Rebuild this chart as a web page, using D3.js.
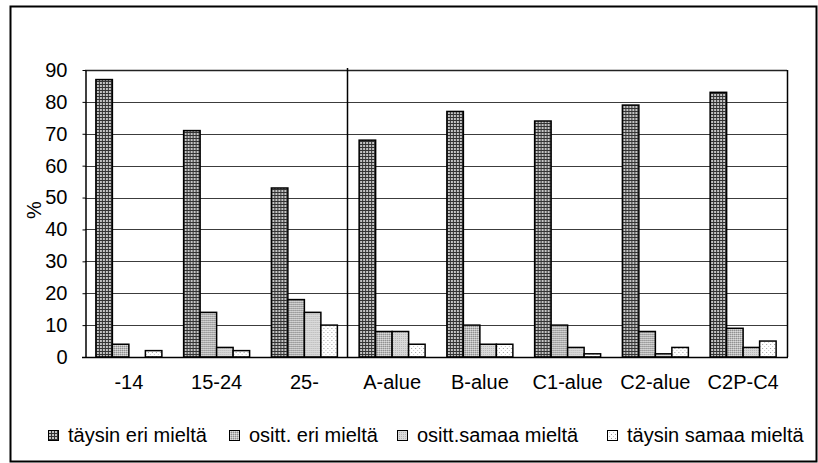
<!DOCTYPE html>
<html>
<head>
<meta charset="utf-8">
<script src="https://cdn.jsdelivr.net/npm/d3@7"></script>
<style>
  html, body { margin: 0; padding: 0; background: #fff; }
  svg text { font-family: "Liberation Sans", Arial, sans-serif; fill: #000; }
</style>
</head>
<body>
<svg id="chart" width="818" height="463"></svg>
<script>
// Kyselyn vastausjakaumat ikäryhmittäin ja alueittain (%)
const categories = ["-14", "15-24", "25-", "A-alue", "B-alue", "C1-alue", "C2-alue", "C2P-C4"];
const seriesNames = ["täysin eri mieltä", "ositt. eri mieltä", "ositt.samaa mieltä", "täysin samaa mieltä"];
const taysinEri  = [87, 71, 53, 68, 77, 74, 79, 83];
const osittEri   = [4, 14, 18, 8, 10, 10, 8, 9];
const osittSamaa = [0, 3, 14, 8, 4, 3, 1, 3];
const taysinSamaa = [2, 2, 10, 4, 4, 1, 3, 5];
const yTicks = [0, 10, 20, 30, 40, 50, 60, 70, 80, 90];

const seriesValues = [taysinEri, osittEri, osittSamaa, taysinSamaa];

const svg = d3.select("#chart");
const W = 818, H = 463;
const plot = { left: 85, right: 787, top: 70, bottom: 357 };
const FONT = 20;

// Outer frame
svg.append("rect")
  .attr("x", 10.5).attr("y", 6.5)
  .attr("width", W - 12).attr("height", H - 8)
  .attr("fill", "#fff").attr("stroke", "#000").attr("stroke-width", 2);

// Fill patterns for the four series
const defs = svg.append("defs");
function pattern(id, size, bg, draw) {
  const p = defs.append("pattern").attr("id", id)
    .attr("patternUnits", "userSpaceOnUse")
    .attr("width", size).attr("height", size);
  p.append("rect").attr("width", size).attr("height", size).attr("fill", bg);
  draw(p);
}
pattern("p0", 3, "#c4c4c4", p => {
  p.append("rect").attr("x", 0).attr("y", 0).attr("width", 3).attr("height", 1).attr("fill", "#333");
  p.append("rect").attr("x", 0).attr("y", 0).attr("width", 1).attr("height", 3).attr("fill", "#333");
});
pattern("p1", 2, "#bdbdbd", p => {
  p.append("rect").attr("x", 0).attr("y", 0).attr("width", 1).attr("height", 1).attr("fill", "#8a8a8a");
  p.append("rect").attr("x", 1).attr("y", 1).attr("width", 1).attr("height", 1).attr("fill", "#e0e0e0");
});
pattern("p2", 2, "#dadada", p => {
  p.append("rect").attr("x", 0).attr("y", 0).attr("width", 1).attr("height", 1).attr("fill", "#b4b4b4");
});
pattern("p3", 4, "#ffffff", p => {
  p.append("rect").attr("x", 0).attr("y", 0).attr("width", 1).attr("height", 1).attr("fill", "#a0a0a0");
  p.append("rect").attr("x", 2).attr("y", 2).attr("width", 1).attr("height", 1).attr("fill", "#c8c8c8");
});
const fills = ["url(#p0)", "url(#p1)", "url(#p2)", "url(#p3)"];

const x0 = d3.scaleBand().domain(categories).range([plot.left, plot.right]).paddingInner(0.248).paddingOuter(0.124);
const x1 = d3.scaleBand().domain(d3.range(seriesNames.length)).range([0, x0.bandwidth()]);
const y = d3.scaleLinear().domain([0, 90]).range([plot.bottom, plot.top]);

// Gridlines
svg.append("g").selectAll("line").data(yTicks.filter(t => t > 0)).join("line")
  .attr("x1", plot.left).attr("x2", plot.right)
  .attr("y1", d => Math.round(y(d)) + 0.5).attr("y2", d => Math.round(y(d)) + 0.5)
  .attr("stroke", d => d === 90 ? "#222" : "#3c3c3c").attr("stroke-width", d => d === 90 ? 1.5 : 1.2);

// Right border of plot area
svg.append("line")
  .attr("x1", plot.right + 0.5).attr("x2", plot.right + 0.5)
  .attr("y1", plot.top).attr("y2", plot.bottom)
  .attr("stroke", "#000").attr("stroke-width", 1.5);

// Separator between age groups and areas
const sepX = Math.round(x0("A-alue") - x0.step() * x0.paddingInner() / 2) - 0.5;
svg.append("line")
  .attr("x1", sepX).attr("x2", sepX)
  .attr("y1", plot.top - 2).attr("y2", plot.bottom)
  .attr("stroke", "#000").attr("stroke-width", 1.5);

// Bars
const groups = svg.append("g").selectAll("g").data(categories).join("g")
  .attr("transform", d => `translate(${x0(d)},0)`);
groups.selectAll("rect")
  .data((c, i) => seriesValues.map((vals, s) => ({ s, v: vals[i] })).filter(d => d.v > 0))
  .join("rect")
  .attr("x", d => x1(d.s))
  .attr("y", d => y(d.v))
  .attr("width", x1.bandwidth())
  .attr("height", d => y(0) - y(d.v))
  .attr("fill", d => fills[d.s])
  .attr("stroke", "#000").attr("stroke-width", 1.5);

// Y axis
const yAxis = svg.append("g")
  .attr("transform", `translate(${plot.left + 0.5},0)`)
  .call(d3.axisLeft(y).tickValues(yTicks).tickSize(3).tickPadding(15).tickSizeOuter(0));
yAxis.select(".domain").attr("stroke", "#000").attr("stroke-width", 1.5);
yAxis.selectAll(".tick line").attr("stroke", "#000");
yAxis.selectAll("text").attr("font-size", FONT).style("font-family", "Liberation Sans, Arial, sans-serif");

// X axis baseline and labels
const xAxis = svg.append("g")
  .attr("transform", `translate(0,${plot.bottom + 0.5})`)
  .call(d3.axisBottom(x0).tickSize(0).tickPadding(17));
xAxis.select(".domain").attr("stroke", "#000").attr("stroke-width", 1.5)
  .attr("d", `M${plot.left - 3},0H${plot.right + 1}`);
xAxis.selectAll("text").attr("font-size", FONT).style("font-family", "Liberation Sans, Arial, sans-serif");

// Y title
svg.append("text")
  .attr("transform", "translate(41,210) rotate(-90)")
  .attr("text-anchor", "middle")
  .attr("font-size", FONT)
  .text("%");

// Legend
const legendX = [48, 229, 397, 607];
const legend = svg.append("g").selectAll("g").data(seriesNames).join("g")
  .attr("transform", (d, i) => `translate(${legendX[i]},430)`);
legend.append("rect")
  .attr("x", 0.5).attr("y", 0.5).attr("width", 10).attr("height", 10)
  .attr("fill", (d, i) => fills[i]).attr("stroke", "#000").attr("stroke-width", 1);
legend.append("text")
  .attr("x", 20).attr("y", 11.5)
  .attr("font-size", FONT)
  .text(d => d);
</script>
</body>
</html>
